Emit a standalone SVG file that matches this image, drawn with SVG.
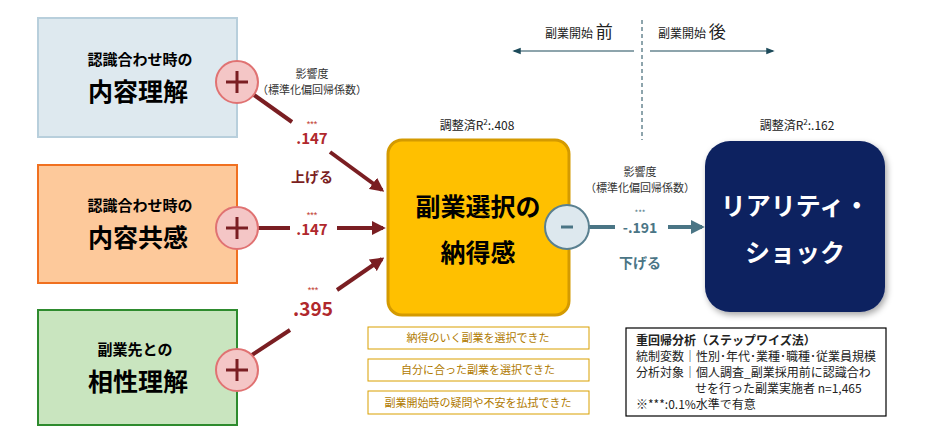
<svg xmlns="http://www.w3.org/2000/svg" width="930" height="440" viewBox="0 0 930 440">
<defs>
<style>
text{font-family:"Noto Sans CJK JP","Liberation Sans",sans-serif}
.ttl{font-size:15px;font-weight:bold;fill:#000;text-anchor:middle}
.big{font-size:25px;font-weight:bold;fill:#000;text-anchor:middle}
.pc{fill:#f4c6c6;stroke:#e07272;stroke-width:2}
.pl{stroke:#7a1e22;stroke-width:3}
.ar{stroke:#7a1e22;stroke-width:4;fill:none}
.val{font-size:15px;font-weight:bold;fill:#b0282c;text-anchor:middle}
.star{font-size:9px;fill:#c0392b;text-anchor:middle;font-family:"Liberation Sans",sans-serif}
.sm{font-size:11px;fill:#333;text-anchor:middle}
.lb{fill:#fff;stroke:#d9a000;stroke-width:1}
.lt{font-size:11px;fill:#b07a00;text-anchor:middle}
.lg{font-size:12px;fill:#222}
</style>
<marker id="mr" viewBox="0 0 10 10" refX="8" refY="5" markerWidth="3.5" markerHeight="3.5" orient="auto"><path d="M0,0L10,5L0,10z" fill="#7a1e22"/></marker>
<marker id="mb" viewBox="0 0 10 10" refX="8" refY="5" markerWidth="3.5" markerHeight="3.5" orient="auto"><path d="M0,0L10,5L0,10z" fill="#4a7585"/></marker>
<marker id="mt" viewBox="0 0 10 10" refX="8" refY="5" markerWidth="7" markerHeight="7" orient="auto"><path d="M0,1L10,5L0,9z" fill="#1c4a5a"/></marker>
<filter id="sh" x="-10%" y="-10%" width="130%" height="130%"><feDropShadow dx="2" dy="3" stdDeviation="3" flood-opacity="0.35"/></filter>
</defs>

<g id="timeline">
<line x1="642" y1="20" x2="642" y2="140" stroke="#1c4a5a" stroke-dasharray="4,3"/>
<line x1="634" y1="51" x2="514" y2="51" stroke="#1c4a5a" stroke-width="1.2" marker-end="url(#mt)"/>
<line x1="650" y1="51" x2="773" y2="51" stroke="#1c4a5a" stroke-width="1.2" marker-end="url(#mt)"/>
<text x="545" y="38" font-size="12" fill="#222">副業開始 <tspan font-size="17">前</tspan></text>
<text x="658" y="38" font-size="12" fill="#222">副業開始 <tspan font-size="17">後</tspan></text>
</g>

<g id="node-naiyo-rikai">
<rect x="38" y="18" width="199" height="119" fill="#dee9ef" stroke="#b8cfdc" stroke-width="2"/>
<text class="ttl" x="140" y="65">認識合わせ時の</text>
<text class="big" x="138" y="101">内容理解</text>
</g>
<g id="node-naiyo-kyokan">
<rect x="38" y="165" width="199" height="118" fill="#fdc99b" stroke="#f07020" stroke-width="2"/>
<text class="ttl" x="140" y="211">認識合わせ時の</text>
<text class="big" x="138" y="247">内容共感</text>
</g>
<g id="node-aisho">
<rect x="38" y="310" width="199" height="115" fill="#c9e5bf" stroke="#2e8b2e" stroke-width="2"/>
<text class="ttl" x="135" y="355">副業先との</text>
<text class="big" x="138" y="391">相性理解</text>
</g>

<g id="connectors">
<line class="ar" x1="254" y1="95" x2="292" y2="122"/>
<line class="ar" x1="330" y1="152" x2="382" y2="190" marker-end="url(#mr)"/>
<line class="ar" x1="257" y1="228" x2="290" y2="228"/>
<line class="ar" x1="337" y1="228" x2="383" y2="228" marker-end="url(#mr)"/>
<line class="ar" x1="252" y1="355" x2="290" y2="330"/>
<line class="ar" x1="337" y1="290" x2="382" y2="259" marker-end="url(#mr)"/>
<line x1="589" y1="227" x2="615" y2="227" stroke="#4a7585" stroke-width="4"/>
<line x1="668" y1="227" x2="702" y2="227" stroke="#4a7585" stroke-width="4" marker-end="url(#mb)"/>
</g>

<g id="plus-circles">
<circle class="pc" cx="237" cy="82" r="21"/>
<path class="pl" d="M226,82h22M237,71v22"/>
<circle class="pc" cx="237" cy="228" r="21"/>
<path class="pl" d="M226,228h22M237,217v22"/>
<circle class="pc" cx="237" cy="370" r="21"/>
<path class="pl" d="M226,370h22M237,359v22"/>
</g>

<g id="labels">
<text class="sm" x="312" y="78">影響度</text>
<text class="sm" x="312" y="94">（標準化偏回帰係数）</text>
<text class="star" x="312" y="127">***</text>
<text class="val" x="312" y="144">.147</text>
<text x="312" y="182" font-size="14" font-weight="bold" fill="#7a1e22" text-anchor="middle">上げる</text>
<text class="star" x="312" y="218">***</text>
<text class="val" x="312" y="235">.147</text>
<text class="star" x="313" y="293">***</text>
<text x="313" y="316" font-size="19" font-weight="bold" fill="#b0282c" text-anchor="middle">.395</text>
<text class="sm" x="640" y="176">影響度</text>
<text class="sm" x="640" y="192">（標準化偏回帰係数）</text>
<text x="640" y="216" font-size="8" fill="#4a7585" text-anchor="middle" font-family="Liberation Sans,sans-serif">***</text>
<text x="640" y="233" font-size="14" font-weight="bold" fill="#4a7585" text-anchor="middle">-.191</text>
<text x="640" y="268" font-size="14" font-weight="bold" fill="#4a7585" text-anchor="middle">下げる</text>
<text x="477" y="130" font-size="12" fill="#222" text-anchor="middle">調整済R<tspan font-size="8" dy="-5">2</tspan><tspan dy="5">:.408</tspan></text>
<text x="797" y="130" font-size="12" fill="#222" text-anchor="middle">調整済R<tspan font-size="8" dy="-5">2</tspan><tspan dy="5">:.162</tspan></text>
</g>

<g id="node-nattoku">
<rect x="388" y="140" width="181" height="175" rx="14" fill="#ffc000" stroke="#d49a00" stroke-width="3"/>
<text x="478" y="216" font-size="25" font-weight="bold" text-anchor="middle" fill="#000">副業選択の</text>
<text x="478" y="262" font-size="25" font-weight="bold" text-anchor="middle" fill="#000">納得感</text>
</g>

<g id="minus-circle">
<circle cx="567" cy="227" r="22" fill="#dde8ee" stroke="#5a8090" stroke-width="2"/>
<line x1="561" y1="227" x2="573" y2="227" stroke="#4a7585" stroke-width="3"/>
</g>

<g id="node-reality">
<rect x="705" y="141" width="180" height="171" rx="25" fill="#0b2161" filter="url(#sh)"/>
<text x="795" y="215" font-size="25" font-weight="bold" fill="#fff" text-anchor="middle">リアリティ・</text>
<text x="795" y="262" font-size="25" font-weight="bold" fill="#fff" text-anchor="middle">ショック</text>
</g>

<g id="items">
<rect class="lb" x="368" y="327" width="221" height="22"/>
<text class="lt" x="478" y="342">納得のいく副業を選択できた</text>
<rect class="lb" x="368" y="359" width="221" height="22"/>
<text class="lt" x="478" y="374">自分に合った副業を選択できた</text>
<rect class="lb" x="368" y="391" width="221" height="23"/>
<text class="lt" x="478" y="407">副業開始時の疑問や不安を払拭できた</text>
</g>

<g id="legend">
<rect x="626" y="328" width="260" height="88" fill="#fff" stroke="#000" stroke-width="1.2"/>
<text class="lg" x="636" y="345" font-weight="bold">重回帰分析（ステップワイズ法）</text>
<text class="lg" x="636" y="361">統制変数｜性別･年代･業種･職種･従業員規模</text>
<text class="lg" x="636" y="377">分析対象｜個人調査_副業採用前に認識合わ</text>
<text class="lg" x="695" y="393">せを行った副業実施者 n=1,465</text>
<text class="lg" x="636" y="409">※***:0.1%水準で有意</text>
</g>
</svg>
